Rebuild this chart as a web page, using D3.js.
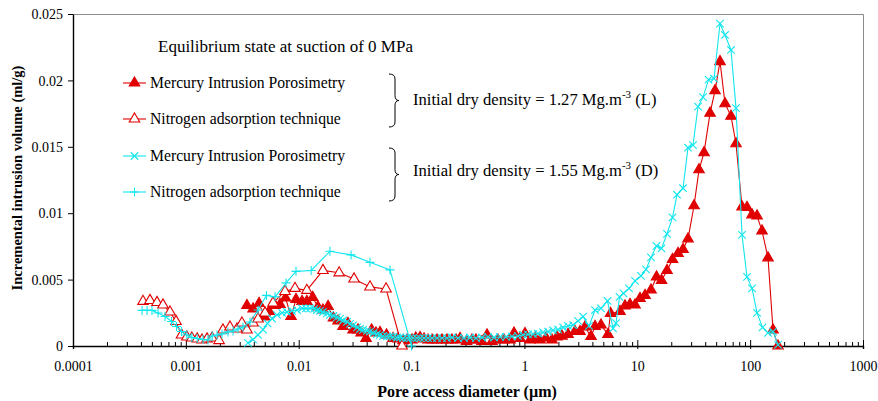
<!DOCTYPE html>
<html>
<head>
<meta charset="utf-8">
<script src="https://cdn.jsdelivr.net/npm/d3@7"></script>
<style>
    body { margin: 0; background: #fff; }
    svg text { font-family: "Liberation Serif", "Times New Roman", serif; fill: #000; }
</style>
</head>
<body>
<div id="graphe"></div>
<script>
// axis ticks
const xTicks = [0.0001, 0.001, 0.01, 0.1, 1, 10, 100, 1000];
const xTickLabels = ["0.0001", "0.001", "0.01", "0.1", "1", "10", "100", "1000"];
const yTicks = [0, 0.005, 0.01, 0.015, 0.02, 0.025];
const yTickLabels = ["0", "0.005", "0.01", "0.015", "0.02", "0.025"];

// Mercury Intrusion Porosimetry, 1.27 Mg/m3 (L)
const mipL_d = [0.00348,0.00394,0.00445,0.00498,0.00546,0.00617,0.00683,0.00764,0.00855,0.00946,
    0.0107,0.0118,0.0133,0.0148,0.0164,0.0182,0.0203,0.0223,0.0247,0.0273,
    0.0303,0.0335,0.0357,0.0395,0.0442,0.0484,0.0525,0.0600,0.0685,0.0758,
    0.0840,0.0911,0.101,0.109,0.119,0.129,0.140,0.152,0.168,0.186,
    0.206,0.228,0.248,0.269,0.307,0.343,0.372,0.421,0.466,0.516,
    0.583,0.659,0.745,0.809,0.914,1.012,1.121,1.241,1.375,1.554,
    1.756,1.945,2.153,2.434,2.807,3.109,3.443,3.890,4.222,4.771,
    5.504,5.792,7.031,7.787,8.621,9.548,10.57,11.71,13.23,14.81,
    16.40,18.34,20.52,22.96,25.43,28.15,31.83,35.24,39.03,44.12,
    48.85,54.09,59.90,67.68,74.96,84.72,93.81,103.9,115.1,127.4,
    144.0,159.5,176.6];
const mipL_v = [0.00305,0.00279,0.00321,0.00219,0.00260,0.00305,0.00313,0.00362,0.00222,0.00351,
    0.00336,0.00336,0.00366,0.00294,0.00271,0.00298,0.00211,0.00189,0.00147,0.00170,
    0.00121,0.00121,0.00098,0.00057,0.00121,0.00098,0.00102,0.00083,0.00057,0.00053,
    0.00041,0.00045,0.00045,0.00060,0.00064,0.00053,0.00045,0.00045,0.00045,0.00045,
    0.00045,0.00045,0.00045,0.00057,0.00034,0.00045,0.00045,0.00034,0.00083,0.00034,
    0.00045,0.00045,0.00045,0.00098,0.00057,0.00094,0.00045,0.00060,0.00045,0.00060,
    0.00045,0.00068,0.00075,0.00087,0.00109,0.00109,0.00143,0.00072,0.00147,0.00158,
    0.00087,0.00245,0.00260,0.00302,0.00313,0.00309,0.00358,0.00381,0.00422,0.00520,
    0.00494,0.00569,0.00652,0.00698,0.00728,0.00807,0.01056,0.01327,0.01456,0.01753,
    0.01923,0.02142,0.01825,0.01731,0.01523,0.01048,0.01044,0.00988,0.00980,0.00867,
    0.00664,0.00121,0];

// Nitrogen adsorption, 1.27 Mg/m3 (L)
const n2L_d = [0.000417,0.000481,0.000555,0.000627,0.000724,0.000818,0.000915,0.00102,0.00113,0.00126,
    0.00139,0.00154,0.00171,0.00197,0.00213,0.00246,0.00284,0.00314,0.00348,0.00394,
    0.00436,0.00503,0.00592,0.00756,0.00927,0.0118,0.0164,0.0228,0.0309,0.0428,
    0.0594,0.0823];
const n2L_v = [0.00336,0.00343,0.00328,0.00309,0.00256,0.00185,0.00083,0.00068,0.00060,0.00053,
    0.00045,0.00053,0.00060,0.00041,0.00121,0.00143,0.00128,0.00173,0.00121,0.00173,
    0.00204,0.00249,0.00324,0.00411,0.00434,0.00419,0.00569,0.00551,0.00505,0.00445,
    0.00430,0];

// Mercury Intrusion Porosimetry, 1.55 Mg/m3 (D)
const mipD_d = [0.00355,0.00394,0.00436,0.00483,0.00529,0.00580,0.00642,0.00711,0.00788,0.00872,
    0.00966,0.0107,0.0116,0.0126,0.0137,0.0145,0.0154,0.0164,0.0178,0.0189,
    0.0203,0.0218,0.0232,0.0247,0.0268,0.0285,0.0303,0.0329,0.0349,0.0371,
    0.0403,0.0428,0.0460,0.0494,0.0525,0.0558,0.0606,0.0644,0.0685,0.0743,
    0.0790,0.0840,0.0911,0.0969,0.103,0.112,0.119,0.129,0.140,0.152,
    0.168,0.186,0.206,0.228,0.258,0.291,0.329,0.372,0.421,0.476,
    0.538,0.608,0.687,0.776,0.877,0.971,1.076,1.192,1.320,1.461,
    1.618,1.792,1.984,2.198,2.434,2.695,2.984,3.305,3.735,4.222,
    4.771,5.449,6.095,6.479,6.959,7.551,8.447,9.548,10.79,11.95,
    13.23,14.81,16.40,18.34,20.52,22.49,25.43,28.15,31.18,34.52,
    38.23,42.78,47.86,54.09,59.90,67.68,74.96,84.72,93.81,103.9,
    115.1,128.7,144.0,159.5,176.6];
const mipD_v = [0.00023,0.00049,0.00083,0.00124,0.00170,0.00207,0.00234,0.00249,0.00256,0.00264,
    0.00271,0.00283,0.00283,0.00283,0.00279,0.00271,0.00264,0.00256,0.00245,0.00234,
    0.00226,0.00215,0.00204,0.00192,0.00181,0.00166,0.00155,0.00140,0.00128,0.00121,
    0.00113,0.00109,0.00098,0.00090,0.00083,0.00075,0.00072,0.00072,0.00068,0.00064,
    0.00064,0.00060,0.00060,0.00060,0.00060,0.00060,0.00060,0.00060,0.00060,0.00060,
    0.00060,0.00060,0.00060,0.00064,0.00060,0.00060,0.00064,0.00060,0.00064,0.00068,
    0.00064,0.00068,0.00068,0.00072,0.00075,0.00083,0.00087,0.00090,0.00094,0.00102,
    0.00109,0.00117,0.00124,0.00140,0.00151,0.00158,0.00189,0.00222,0.00151,0.00271,
    0.00283,0.00339,0.00132,0.00173,0.00370,0.00396,0.00434,0.00490,0.00528,0.00577,
    0.00667,0.00754,0.00735,0.00845,0.00969,0.01139,0.01188,0.01493,0.01512,0.01802,
    0.01874,0.02006,0.02014,0.02428,0.02342,0.02229,0.01791,0.00837,0.00520,0.00434,
    0.00249,0.00140,0.00098,0.00109,0.00008];

// Nitrogen adsorption, 1.55 Mg/m3 (D)
const n2D_d = [0.000409,0.000453,0.000501,0.000567,0.000654,0.000746,0.000826,0.000915,0.00102,0.00113,
    0.00126,0.00142,0.00157,0.00171,0.00189,0.00209,0.00236,0.00262,0.00290,0.00321,
    0.00370,0.00436,0.00518,0.00617,0.00772,0.00946,0.0129,0.0189,0.0291,0.0428,
    0.0644,0.100];
const n2D_v = [0.00268,0.00268,0.00268,0.00249,0.00222,0.00185,0.00147,0.00109,0.00083,0.00064,
    0.00057,0.00049,0.00045,0.00075,0.00083,0.00090,0.00106,0.00113,0.00128,0.00143,
    0.00181,0.00271,0.00381,0.00370,0.00475,0.00562,0.00569,0.00713,0.00686,0.00630,
    0.00573,0];

const red = "#e00000";
const cyan = "#12e6ee";

// custom stroke symbols for the markers
const symTimes = {
    draw: function (ctx, size) {
        let r = Math.sqrt(size) / 2;
        ctx.moveTo(-r, -r); ctx.lineTo(r, r);
        ctx.moveTo(-r, r); ctx.lineTo(r, -r);
    }
};
const symPlus = {
    draw: function (ctx, size) {
        let r = Math.sqrt(size) / 2;
        ctx.moveTo(-r, 0); ctx.lineTo(r, 0);
        ctx.moveTo(0, -r); ctx.lineTo(0, r);
    }
};

let series = [
    { name: "Mercury Intrusion Porosimetry", d: mipL_d, v: mipL_v, color: red, type: d3.symbolTriangle, size: 48, fill: red },
    { name: "Nitrogen adsorption technique", d: n2L_d, v: n2L_v, color: red, type: d3.symbolTriangle, size: 48, fill: "#fff" },
    { name: "Mercury Intrusion Porosimetry", d: mipD_d, v: mipD_v, color: cyan, type: symTimes, size: 56, fill: "none" },
    { name: "Nitrogen adsorption technique", d: n2D_d, v: n2D_v, color: cyan, type: symPlus, size: 81, fill: "none" }
];

function drawChart(div) {
    // dimensions and margins of the graph
    let margin = { top: 14, right: 15, bottom: 55, left: 73 };
    let width = 878 - margin.left - margin.right;
    let height = 401 - margin.top - margin.bottom;

    let svg = div
        .append("svg")
        .attr("width", 878)
        .attr("height", 401)
    .append("g")
        .attr("transform", "translate(" + margin.left + "," + margin.top + ")");

    let xScale = d3.scaleLog()
        .domain([0.0001, 1000])
        .range([0, width]);
    let yScale = d3.scaleLinear()
        .domain([0, 0.025])
        .range([height, 0]);

    // plot area border (top and right)
    svg.append("path")
        .attr("d", "M0,0.5H" + (width + 0.5) + "V" + height)
        .attr("fill", "none")
        .attr("stroke", "#8c8c8c")
        .attr("stroke-width", 1);

    // minor ticks of the log axis, pointing up
    let minors = [];
    for (let k = -4; k < 3; k++) {
        for (let m = 2; m < 10; m++) minors.push(m * Math.pow(10, k));
    }
    svg.append("g")
        .attr("transform", "translate(0," + height + ")")
        .call(d3.axisBottom(xScale).tickValues(minors).tickSize(-4).tickFormat(""))
        .call(g => g.select(".domain").remove())
        .selectAll("line").attr("stroke", "#000");

    // major ticks going up
    svg.append("g")
        .attr("transform", "translate(0," + height + ")")
        .call(d3.axisBottom(xScale).tickValues(xTicks).tickSize(-6).tickFormat(""))
        .call(g => g.select(".domain").remove());

    // Add X axis
    let xAxis = svg.append("g")
        .attr("transform", "translate(0," + height + ")")
        .call(d3.axisBottom(xScale)
            .tickValues(xTicks)
            .tickSize(3)
            .tickFormat((d, i) => xTickLabels[i]));
    xAxis.select(".domain").attr("stroke-width", 1.4);
    xAxis.selectAll("text")
        .attr("y", 25)
        .attr("dy", 0)
        .style("font-size", "14px");

    // Add Y axis
    let yAxis = svg.append("g")
        .call(d3.axisLeft(yScale)
            .tickValues(yTicks)
            .tickSize(5)
            .tickPadding(5)
            .tickSizeOuter(0)
            .tickFormat((d, i) => yTickLabels[i]));
    yAxis.select(".domain").attr("stroke-width", 1.4);
    yAxis.selectAll("text")
        .attr("dy", "0.34em")
        .style("font-size", "14px");

    // axis titles
    svg.append("text")
        .attr("x", 394)
        .attr("y", height + 51)
        .attr("text-anchor", "middle")
        .style("font-size", "16px")
        .style("font-weight", "bold")
        .text("Pore access diameter (\u00b5m)");

    svg.append("text")
        .attr("transform", "translate(" + (-51) + "," + 164 + ") rotate(-90)")
        .attr("text-anchor", "middle")
        .style("font-size", "14.5px")
        .style("font-weight", "bold")
        .text("Incremental intrusion volume (ml/g)");

    // Add the lines
    let line = d3.line()
        .x(function (d) { return xScale(d[0]) })
        .y(function (d) { return yScale(d[1]) });

    series.forEach(function (s) {
        let pts = s.d.map((d, i) => [d, s.v[i]]);
        let g = svg.append("g");
        g.append("path")
            .attr("d", line(pts))
            .attr("fill", "none")
            .attr("stroke", s.color)
            .attr("stroke-width", 1.1);
        g.selectAll("path.mark")
            .data(pts)
            .enter()
            .append("path")
            .attr("class", "mark")
            .attr("transform", d => "translate(" + xScale(d[0]) + "," + yScale(d[1]) + ")")
            .attr("d", d3.symbol().type(s.type).size(s.size))
            .attr("fill", s.fill)
            .attr("stroke", s.color)
            .attr("stroke-width", 1.1);
    });

    // legend, in page coordinates
    let leg = d3.select("#graphe svg").append("g");
    leg.append("text")
        .attr("x", 158)
        .attr("y", 52)
        .style("font-size", "17px")
        .text("Equilibrium state at suction of 0 MPa");

    let rows = [83, 119, 156, 192];
    series.forEach(function (s, i) {
        let y = rows[i];
        leg.append("line")
            .attr("x1", 123).attr("x2", 146)
            .attr("y1", y).attr("y2", y)
            .attr("stroke", s.color)
            .attr("stroke-width", 1.1);
        leg.append("path")
            .attr("transform", "translate(134.5," + y + ")")
            .attr("d", d3.symbol().type(s.type).size(s.size))
            .attr("fill", s.fill)
            .attr("stroke", s.color)
            .attr("stroke-width", 1.1);
        leg.append("text")
            .attr("x", 150)
            .attr("y", y + 5)
            .style("font-size", "15.7px")
            .text(s.name);
    });

    // curly braces and density labels
    let braces = [
        { y1: 74, y2: 127, ty: 105, label: "1.27", tag: "(L)" },
        { y1: 148, y2: 201, ty: 176, label: "1.55", tag: "(D)" }
    ];
    braces.forEach(function (b) {
        let x0 = 389, x1 = 395, x2 = 399, r = 5;
        let ym = (b.y1 + b.y2) / 2;
        let p = d3.path();
        p.moveTo(x0, b.y1);
        p.quadraticCurveTo(x1, b.y1, x1, b.y1 + r);
        p.lineTo(x1, ym - r);
        p.quadraticCurveTo(x1, ym, x2, ym);
        p.quadraticCurveTo(x1, ym, x1, ym + r);
        p.lineTo(x1, b.y2 - r);
        p.quadraticCurveTo(x1, b.y2, x0, b.y2);
        leg.append("path")
            .attr("d", p.toString())
            .attr("fill", "none")
            .attr("stroke", "#000")
            .attr("stroke-width", 1);

        let t = leg.append("text")
            .attr("x", 413)
            .attr("y", b.ty)
            .style("font-size", "16.6px");
        t.append("tspan").text("Initial dry density = " + b.label + " Mg.m");
        t.append("tspan").attr("dy", -7).style("font-size", "11px").text("-3");
        t.append("tspan").attr("dy", 7).text(" " + b.tag);
    });
}

drawChart(d3.select("#graphe"));
</script>
</body>
</html>
